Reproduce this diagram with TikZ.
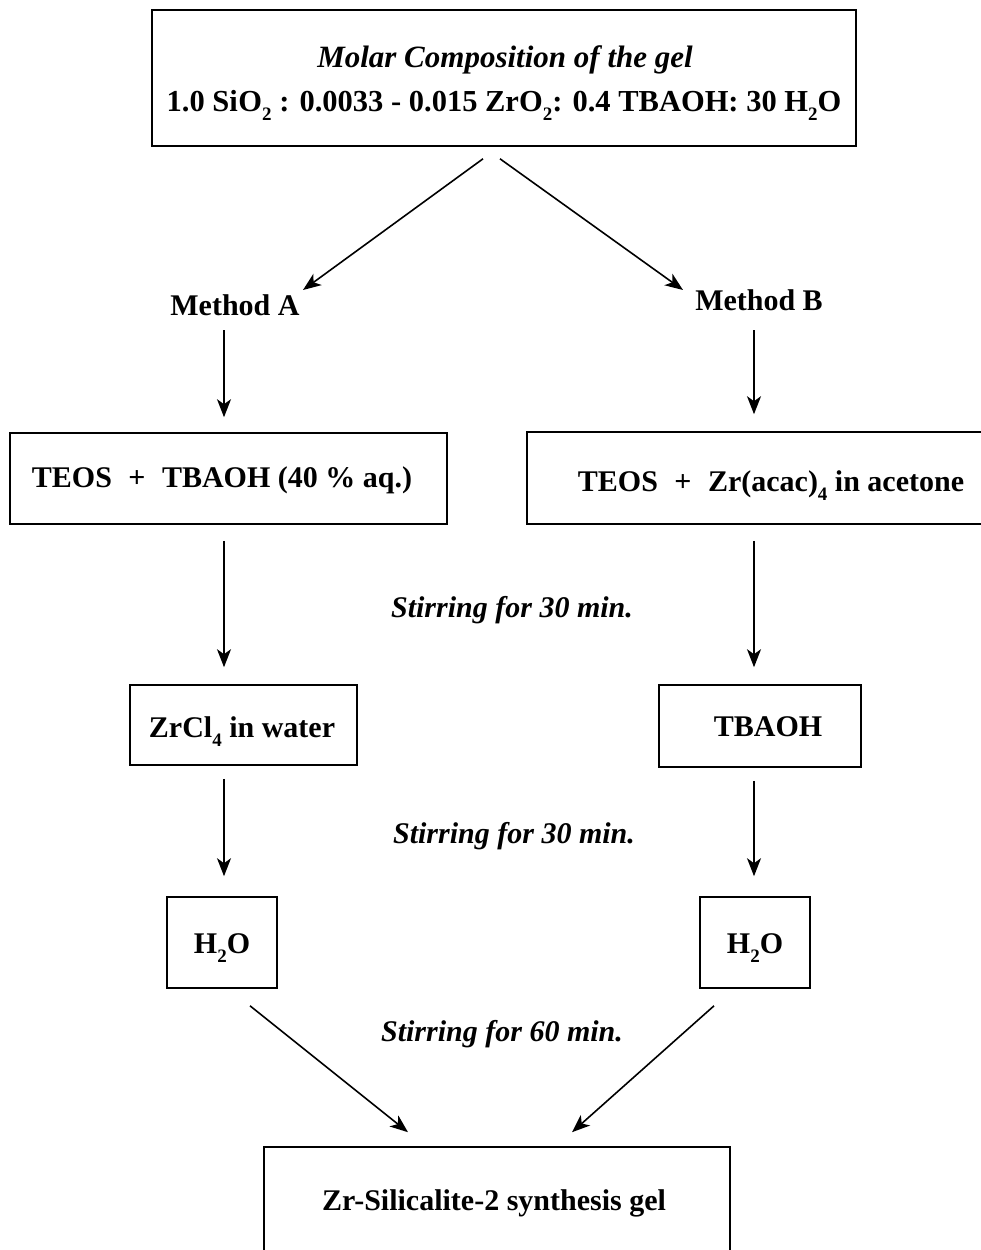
\documentclass[tikz,border=0pt]{standalone}
\usepackage{fontspec}
\setmainfont{Liberation Serif}
\usetikzlibrary{arrows.meta}
% chemical subscript, set low and small like the printed formulae
\newcommand{\dn}[1]{\raisebox{-0.3em}{\fontsize{19}{19}\selectfont #1}}
\newcommand{\plusgap}{\hspace{0.55em}+\hspace{0.55em}}
\begin{document}
\begin{tikzpicture}[x=1pt,y=-1pt,
  every node/.style={font=\fontsize{30}{36}\selectfont\bfseries},
  boxnode/.style={draw,line width=1.6pt,inner sep=0pt,anchor=center},
  lbl/.style={inner sep=0pt,anchor=base},
  stir/.style={lbl,font=\fontsize{30}{36}\selectfont\bfseries\itshape},
  arr/.style={line width=1.6pt,-{Stealth[length=18pt,width=14pt,inset=5pt]}}]
\useasboundingbox (0,0) rectangle (981,1250);
\clip (0,0) rectangle (981,1250);

% boxes
\node[boxnode,minimum width=704pt,minimum height=136pt] (top) at (504,78) {};
\node[lbl,font=\fontsize{31}{36}\selectfont\bfseries\itshape] (title) at (505,67) {Molar Composition of the gel};
\node[lbl,font=\fontsize{30.5}{36}\selectfont\bfseries] (comp) at (504,111) {1.0 Si\hspace{0.02em}O\dn{2} : 0.0033 - 0.015 ZrO\dn{2}: 0.4 TBAOH: 30 H\dn{2}O};

\node[lbl] (mA) at (235,315) {Method A};
\node[lbl] (mB) at (759,310) {Method B};

\node[boxnode,minimum width=437pt,minimum height=91pt] (tA) at (228.5,478.5) {};
\node[lbl] (tAt) at (222,487) {TEOS\plusgap TBAOH (40 \% aq.)};
\node[boxnode,minimum width=478pt,minimum height=92pt] (tB) at (766,478) {};
\node[lbl] (tBt) at (771,491) {TEOS\plusgap Zr(acac)\dn{4} in acetone};

\node[boxnode,minimum width=227pt,minimum height=80pt] (zA) at (243.5,725) {};
\node[lbl] (zAt) at (242,737) {ZrCl\dn{4} in water};
\node[boxnode,minimum width=202pt,minimum height=82pt] (tbA) at (760,726) {};
\node[lbl] (tbAt) at (768,736) {TBAOH};

\node[boxnode,minimum width=110pt,minimum height=91pt] (hL) at (222,942.5) {};
\node[lbl] (hLt) at (222,953) {H\dn{2}O};
\node[boxnode,minimum width=110pt,minimum height=91pt] (hR) at (755,942.5) {};
\node[lbl] (hRt) at (755,953) {H\dn{2}O};

\node[boxnode,minimum width=466pt,minimum height=106pt] (bot) at (497,1200) {};
\node[lbl] (bott) at (494,1210) {Zr-Silicalite-2 synthesis gel};

% stirring steps
\node[stir] (s1) at (512,617) {Stirring for 30 min.};
\node[stir] (s2) at (514,843) {Stirring for 30 min.};
\node[stir] (s3) at (502,1041) {Stirring for 60 min.};

% branches from the composition box
\draw[arr] ([xshift=-21pt,yshift=-12pt]top.south) -- ([xshift=68pt,yshift=25pt]mA.base);
\draw[arr] ([xshift=-4pt,yshift=-12pt]top.south) -- ([xshift=-76pt,yshift=20pt]mB.base);

% method A column
\draw[arr,shorten <=15pt,shorten >=15pt] ([xshift=-11pt]mA.south) -- ([xshift=-4.5pt]tA.north);
\draw[arr,shorten <=16pt,shorten >=17pt] ([xshift=-4.5pt]tA.south) -- ([xshift=-19.5pt]zA.north);
\draw[arr,shorten <=13pt,shorten >=20pt] ([xshift=-19.5pt]zA.south) -- ([xshift=2pt]hL.north);

% method B column
\draw[arr,shorten <=20pt,shorten >=17pt] ([xshift=-5pt]mB.south) -- ([xshift=-12pt]tB.north);
\draw[arr,shorten <=16pt,shorten >=17pt] ([xshift=-12pt]tB.south) -- ([xshift=-6pt]tbA.north);
\draw[arr,shorten <=13pt,shorten >=20pt] ([xshift=-6pt]tbA.south) -- ([xshift=-1pt]hR.north);

% merging into the final gel
\draw[arr] ([xshift=28pt,yshift=-17pt]hL.south) -- ([xshift=-89pt,yshift=14pt]bot.north);
\draw[arr] ([xshift=-41pt,yshift=-17pt]hR.south) -- ([xshift=75pt,yshift=14pt]bot.north);
\end{tikzpicture}
\end{document}
